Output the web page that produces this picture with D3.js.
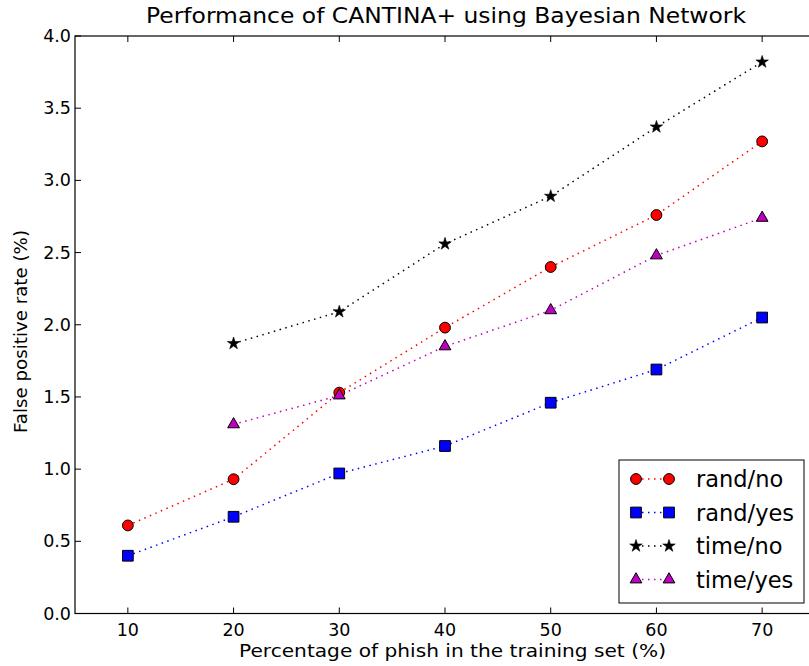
<!DOCTYPE html>
<html>
<head>
<meta charset="utf-8">
<script src="https://cdn.jsdelivr.net/npm/d3@7"></script>
<style>
  body { margin: 0; background: #fff; }
  svg { display: block; font-family: "DejaVu Sans", sans-serif; }
</style>
</head>
<body>
<div id="container"></div>
<script>
// data
const xs = [10, 20, 30, 40, 50, 60, 70];
const randNo  = [0.61, 0.93, 1.53, 1.98, 2.40, 2.76, 3.27];
const randYes = [0.40, 0.67, 0.97, 1.16, 1.46, 1.69, 2.05];
const timeNo  = [null, 1.87, 2.09, 2.56, 2.89, 3.37, 3.82];
const timeYes = [null, 1.31, 1.51, 1.85, 2.10, 2.48, 2.74];
const xTicks = [10, 20, 30, 40, 50, 60, 70];
const yTicks = [0.0, 0.5, 1.0, 1.5, 2.0, 2.5, 3.0, 3.5, 4.0];

const series = [
  {name: 'rand/no',  vals: randNo,  color: '#ff0000', line: '#ff0000', shape: 'circle'},
  {name: 'rand/yes', vals: randYes, color: '#0000ff', line: '#0000ff', shape: 'square'},
  {name: 'time/no',  vals: timeNo,  color: '#000000', line: '#000000', shape: 'star'},
  {name: 'time/yes', vals: timeYes, color: '#bf00bf', line: '#bf00bf', shape: 'triangle'}
];

const W = 809, H = 666;
const svg = d3.select('#container').append('svg')
  .attr('width', W).attr('height', H);

const pLeft = 75, pRight = 815, pTop = 36, pBottom = 613.5;
const x = d3.scaleLinear().domain([5, 75]).range([pLeft, pRight]);
const y = d3.scaleLinear().domain([0, 4]).range([pBottom, pTop]);

// frame
svg.append('rect')
  .attr('x', pLeft).attr('y', pTop)
  .attr('width', pRight - pLeft).attr('height', pBottom - pTop)
  .attr('fill', 'none').attr('stroke', '#000').attr('stroke-width', 1.2);

// ticks (inward, all four sides)
const tickLen = 6;
const tg = svg.append('g').attr('stroke', '#000').attr('stroke-width', 1);
xTicks.forEach(t => {
  tg.append('line').attr('x1', x(t)).attr('x2', x(t)).attr('y1', pBottom).attr('y2', pBottom - tickLen);
  tg.append('line').attr('x1', x(t)).attr('x2', x(t)).attr('y1', pTop).attr('y2', pTop + tickLen);
});
yTicks.forEach(t => {
  tg.append('line').attr('x1', pLeft).attr('x2', pLeft + tickLen).attr('y1', y(t)).attr('y2', y(t));
  tg.append('line').attr('x1', pRight).attr('x2', pRight - tickLen).attr('y1', y(t)).attr('y2', y(t));
});

svg.append('g').selectAll('text').data(xTicks).join('text')
  .attr('x', d => x(d)).attr('y', pBottom + 22)
  .attr('text-anchor', 'middle').attr('font-size', 17.5)
  .text(d => d);

svg.append('g').selectAll('text').data(yTicks).join('text')
  .attr('x', pLeft - 4).attr('y', d => y(d) + 6)
  .attr('text-anchor', 'end').attr('font-size', 17.5)
  .text(d => d.toFixed(1));

// titles
svg.append('text').attr('x', 146).attr('y', 23)
  .attr('font-size', 21)
  .attr('textLength', 600).attr('lengthAdjust', 'spacingAndGlyphs')
  .text('Performance of CANTINA+ using Bayesian Network');

svg.append('text').attr('x', 239).attr('y', 657)
  .attr('font-size', 17.5)
  .attr('textLength', 427).attr('lengthAdjust', 'spacingAndGlyphs')
  .text('Percentage of phish in the training set (%)');

svg.append('text')
  .attr('transform', `translate(27,433) rotate(-90)`)
  .attr('font-size', 17.5)
  .attr('textLength', 203).attr('lengthAdjust', 'spacingAndGlyphs')
  .text('False positive rate (%)');

// symbols
const symType = {
  circle: d3.symbolCircle,
  square: d3.symbolSquare,
  star: d3.symbolStar,
  triangle: d3.symbolTriangle
};
const symSize = {circle: 92, square: 115, star: 48, triangle: 60};

function drawMarker(g, s, cx, cy) {
  g.append('path')
    .attr('d', d3.symbol().type(symType[s.shape]).size(symSize[s.shape])())
    .attr('transform', `translate(${cx},${cy})`)
    .attr('fill', s.color)
    .attr('stroke', '#000')
    .attr('stroke-width', s.shape === 'star' ? 0.6 : 1);
}

const line = d3.line()
  .x(d => x(d.x)).y(d => y(d.v));

const plot = svg.append('g');
series.forEach(s => {
  const pts = xs.map((xv, i) => ({x: xv, v: s.vals[i]}));
  plot.append('path')
    .datum(pts.filter(p => p.v !== null))
    .attr('d', line)
    .attr('fill', 'none')
    .attr('stroke', s.line)
    .attr('stroke-width', 1.5)
    .attr('stroke-dasharray', '1.5,4.5');
});
series.forEach(s => {
  xs.forEach((xv, i) => {
    if (s.vals[i] !== null) drawMarker(plot, s, x(xv), y(s.vals[i]));
  });
});

// legend
const lg = svg.append('g');
lg.append('rect')
  .attr('x', 619).attr('y', 460).attr('width', 185).attr('height', 143)
  .attr('fill', '#fff').attr('stroke', '#000').attr('stroke-width', 1);
series.forEach((s, i) => {
  const ly = 479 + i * 33.5;
  lg.append('line')
    .attr('x1', 636).attr('x2', 669).attr('y1', ly).attr('y2', ly)
    .attr('stroke', s.line).attr('stroke-width', 1.5)
    .attr('stroke-dasharray', '1.5,4.5');
  drawMarker(lg, s, 636, ly);
  drawMarker(lg, s, 669, ly);
  lg.append('text')
    .attr('x', 696).attr('y', ly + 8)
    .attr('font-size', 22.5)
    .text(s.name);
});
</script>
</body>
</html>
